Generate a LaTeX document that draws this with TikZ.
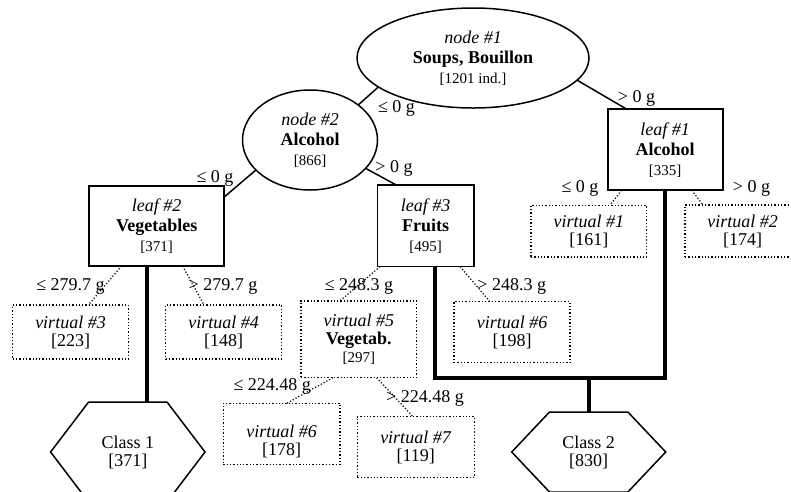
\documentclass[tikz,border=0pt]{standalone}
\usepackage{fontspec}
\setmainfont{Liberation Serif}
\usetikzlibrary{shapes.geometric}
\newcommand\cntx[1]{{\fontsize{15}{15}\selectfont #1}}
\begin{document}
\begin{tikzpicture}[x=1pt,y=-1pt,
  every node/.style={inner sep=0pt, outer sep=0pt, align=center, font=\fontsize{18}{20}\selectfont},
  ellnode/.style={ellipse, draw, line width=1.5pt},
  leafbox/.style={rectangle, draw, line width=1.6pt},
  virtbox/.style={rectangle, draw, dotted, line width=1.3pt, font=\fontsize{18}{18}\selectfont},
  vtext/.style={font=\fontsize{18}{18}\selectfont},
  edgeline/.style={line width=1.5pt},
  dotline/.style={dotted, line width=1.2pt},
  thickline/.style={line width=4pt, line join=miter},
  hexline/.style={line width=1.5pt, line join=miter},
  hextext/.style={font=\fontsize{18}{18}\selectfont},
  lbl/.style={font=\fontsize{18}{18}\selectfont},
]
\useasboundingbox (0,0) rectangle (791,491);
\clip (0,0) rectangle (791,491);

% main nodes
\node[ellnode, minimum width=232pt, minimum height=100pt] (n1) at (473,58)
  {\textit{node \#1}\\\textbf{Soups, Bouillon}\\\cntx{[1201 ind.]}};
\node[ellnode, minimum width=135pt, minimum height=100pt] (n2) at (310,140)
  {\textit{node \#2}\\\textbf{Alcohol}\\\cntx{[866]}};
\node[leafbox, minimum width=115pt, minimum height=81pt] (leaf1) at (665.2,149.7)
  {\textit{leaf \#1}\\\textbf{Alcohol}\\\cntx{[335]}};
\node[leafbox, minimum width=135pt, minimum height=80pt] (leaf2) at (156.7,226)
  {\textit{leaf \#2}\\\textbf{Vegetables}\\\cntx{[371]}};
\node[leafbox, minimum width=96.7pt, minimum height=81.5pt] (leaf3) at (425.7,225.8)
  {\textit{leaf \#3}\\\textbf{Fruits}\\\cntx{[495]}};

% virtual nodes
\node[virtbox, minimum width=115.7pt, minimum height=51.7pt] (v1) at (588.8,231)
  {\textit{virtual \#1}\\{[161]}};
\node[virtbox, minimum width=115pt, minimum height=52pt] (v2) at (742.5,231)
  {\textit{virtual \#2}\\{[174]}};
\node[virtbox, minimum width=115.6pt, minimum height=54pt] (v3) at (70.5,332)
  {\textit{virtual \#3}\\{[223]}};
\node[virtbox, minimum width=116pt, minimum height=54pt] (v4) at (223.7,332)
  {\textit{virtual \#4}\\{[148]}};
\node[virtbox, minimum width=115.7pt, minimum height=76.7pt] (v5) at (358.8,339.3)
  {\textit{virtual \#5}\\\textbf{Vegetab.}\\\cntx{[297]}};
\node[virtbox, minimum width=116pt, minimum height=61pt] (v6r) at (512,332.2)
  {\textit{virtual \#6}\\{[198]}};
\node[virtbox, minimum width=116.7pt, minimum height=61pt] (v6l) at (281.7,433.8) {};
\node[vtext] (v6lt) at (281.7,441) {\textit{virtual \#6}\\{[178]}};
\node[virtbox, minimum width=117pt, minimum height=60.6pt] (v7) at (415.8,447)
  {\textit{virtual \#7}\\{[119]}};

% class hexagons
\node[hextext] (hex1) at (127.8,452) {Class 1\\{[371]}};
\node[hextext] (hex2) at (588.7,452) {Class 2\\{[830]}};
\draw[hexline, shift={(hex1.center)}] (-77.2,0) -- (-39.2,-50) -- (39.2,-50) -- (77.2,0) -- (39.2,50) -- (-39.2,50) -- cycle;
\draw[hexline, shift={(hex2.center)}] (-77,0) -- (-39.2,-40) -- (39.2,-40) -- (77,0) -- (39.2,40) -- (-39.2,40) -- cycle;

% solid connectors
\draw[edgeline] (n1.197) -- (n2.36);
\draw[edgeline] (n1.348) -- ([xshift=19pt]leaf1.north west);
\draw[edgeline] (n2.209) -- ([yshift=-11pt]leaf2.north east);
\draw[edgeline] (n2.333) -- ([xshift=19pt]leaf3.north west);

% dotted connectors
\draw[dotline] ([xshift=14pt]leaf1.south west) -- ([xshift=79pt]v1.north west);
\draw[dotline] ([xshift=84pt]leaf1.south west) -- ([xshift=18pt]v2.north west);
\draw[dotline] ([xshift=32.4pt]leaf2.south west) -- ([xshift=75.6pt]v3.north west);
\draw[dotline] ([xshift=93.4pt]leaf2.south west) -- ([xshift=38.3pt]v4.north west);
\draw[dotline] ([xshift=2.7pt]leaf3.south west) -- ([xshift=39pt]v5.north west);
\draw[dotline] ([xshift=82.7pt]leaf3.south west) -- ([xshift=36pt]v6r.north west);
\draw[dotline] ([xshift=32pt]v5.south west) -- ([xshift=63.4pt]v6l.north west);
\draw[dotline] ([xshift=75.7pt]v5.south west) -- ([xshift=55.7pt]v7.north west);

% thick class connectors
\coordinate (jn) at (589,377.5);
\coordinate (h1t) at (127.8,402);
\coordinate (h2t) at (588.7,412);
\coordinate (l2b) at ([xshift=57.4pt]leaf2.south west);
\coordinate (l3b) at ([xshift=57.7pt]leaf3.south west);
\draw[thickline] (l2b) -- (l2b |- h1t);
\draw[thickline] (l3b) |- (jn) -| (leaf1.south);
\draw[thickline] (jn) -- (jn |- h2t);

% edge labels
\node[lbl] (lab1) at (396.5,108) {≤ 0 g};
\node[lbl] (lab2) at (636.5,98) {> 0 g};
\node[lbl] (lab3) at (215,178) {≤ 0 g};
\node[lbl] (lab4) at (394,168) {> 0 g};
\node[lbl] (lab5) at (580,188) {≤ 0 g};
\node[lbl] (lab6) at (751.5,188) {> 0 g};
\node[lbl] (lab7) at (70.5,286) {≤ 279.7 g};
\node[lbl] (lab8) at (223,286) {> 279.7 g};
\node[lbl] (lab9) at (359,286) {≤ 248.3 g};
\node[lbl] (lab10) at (511.7,286) {> 248.3 g};
\node[lbl] (lab11) at (272.3,386.7) {≤ 224.48 g};
\node[lbl] (lab12) at (425,398) {> 224.48 g};
\end{tikzpicture}
\end{document}
